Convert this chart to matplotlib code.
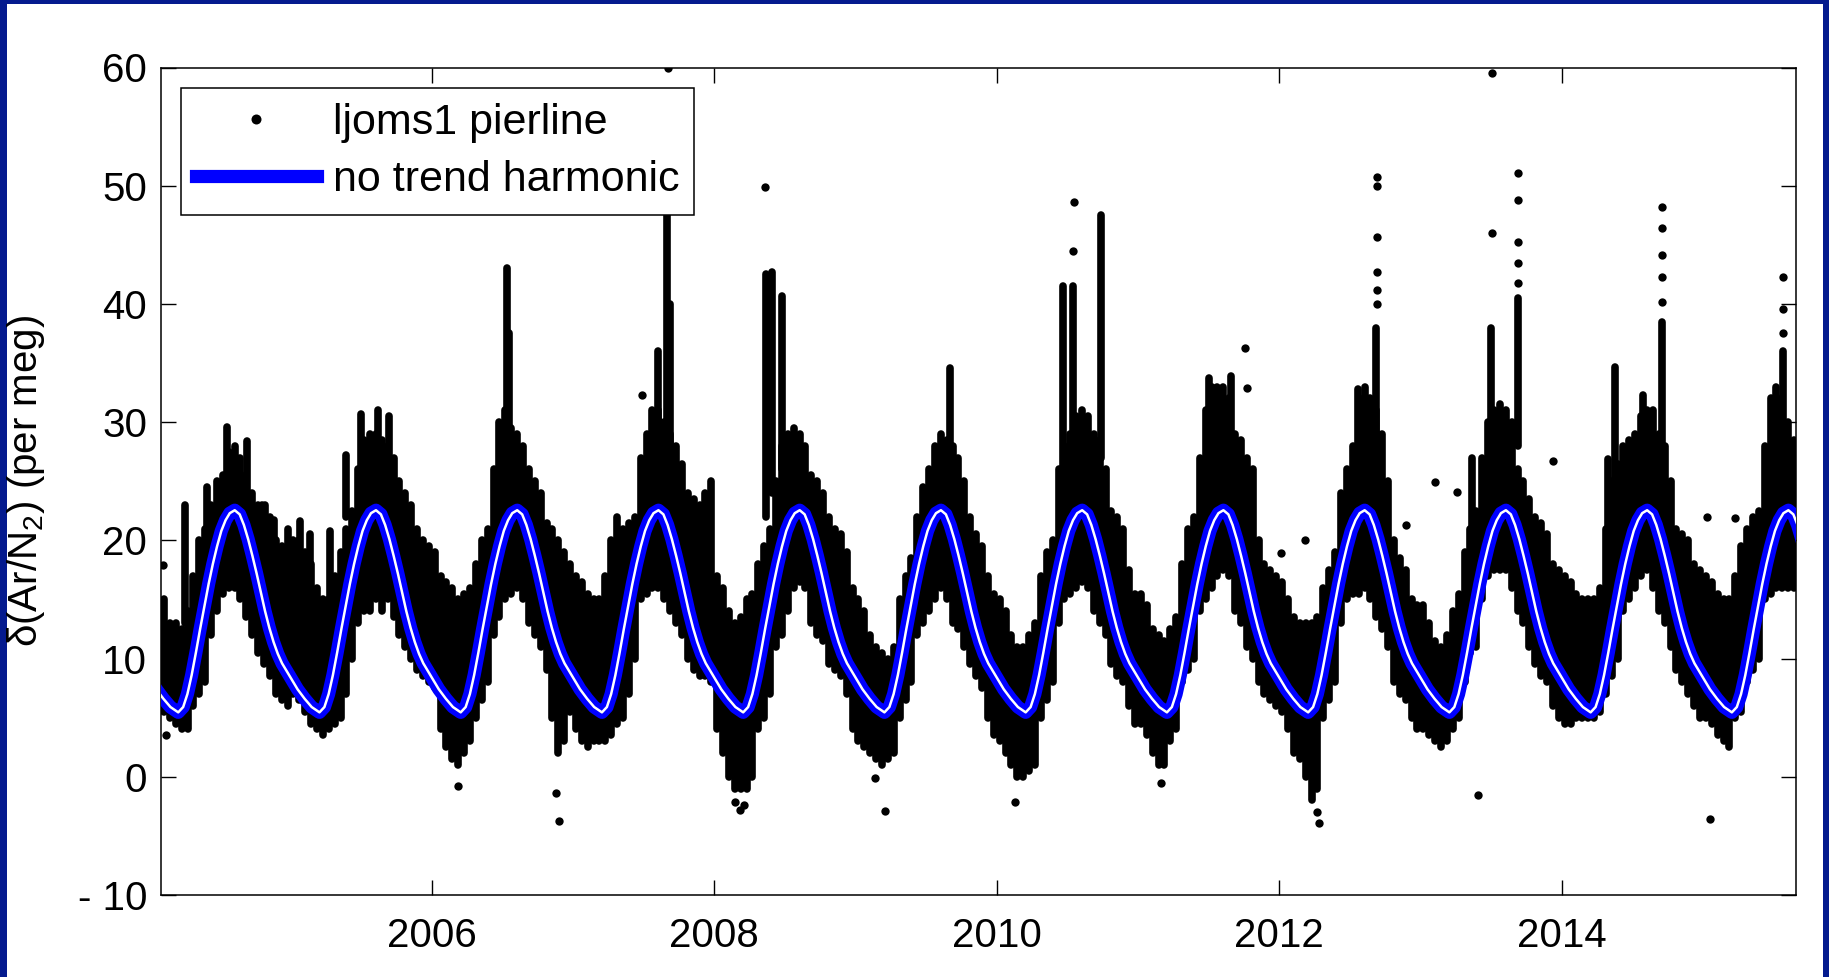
import numpy as np
import matplotlib.pyplot as plt
from matplotlib.patches import Rectangle

plt.rcParams['font.family'] = ['Liberation Sans', 'DejaVu Sans']
plt.rcParams['mathtext.fontset'] = 'custom'
plt.rcParams['mathtext.rm'] = 'Liberation Sans'

# seasonal shape of the no-trend harmonic, one year (phase in yr, value per meg)
harm_phase = [0.000, 0.050, 0.100, 0.150, 0.205, 0.240, 0.270, 0.300, 0.330, 0.360,
              0.390, 0.420, 0.450, 0.480, 0.510, 0.540, 0.570, 0.605, 0.640, 0.670,
              0.700, 0.730, 0.760, 0.790, 0.820, 0.850, 0.880, 0.910, 0.940, 0.970]
harm_value = [8.4, 7.4, 6.6, 5.9, 5.45, 5.9, 7.0, 8.6, 10.5, 12.5,
              14.4, 16.3, 18.0, 19.5, 20.8, 21.7, 22.3, 22.55, 22.2, 21.3,
              20.1, 18.7, 17.2, 15.6, 14.0, 12.6, 11.4, 10.4, 9.6, 9.0]
harm_years = list(range(2004, 2016))

# dense part of the record: low / high edge per half-month bin, starting 2004 + 2/24
core_start = 2004 + 2 / 24
core_lo = [
    5.5, 5, 4.5, 4, 4, 6, 7, 8, 12, 14, 15.5, 16, 16, 15, 13.5, 12, 10.5, 9.5, 8.5, 7, 6.5, 6,
    7, 6.5, 5.5, 4.5, 4, 3.5, 4, 4.5, 5, 7, 10, 13, 14, 14, 15, 14, 15, 13.5, 12, 11, 10, 9, 8.5, 8,
    7.5, 4, 2.5, 1.5, 1, 2, 3, 5, 6.5, 8, 12, 13.5, 15, 15.5, 16, 15, 13, 12, 11, 9, 5, 2, 3, 5.5,
    4, 3, 2.5, 3, 3, 3, 3.5, 4.5, 5, 7, 10, 15, 15.5, 16, 16, 15, 14, 13, 12, 10, 9, 8.5, 8.5, 8,
    4, 2, 0, -1, -1, -1, 0, 4, 5, 7, 11, 12, 14, 16, 16.5, 16, 13, 12, 11.5, 9.5, 9, 8.5, 7, 4,
    3, 2.5, 2, 1.5, 1, 1.5, 2, 5, 6.5, 8, 12, 13, 14, 15, 16, 15, 13, 12.5, 11, 9.5, 8.5, 7.5, 5, 3.5,
    3, 2, 1, 0, 0, 0.5, 1, 5, 6.5, 8, 13, 15, 15.5, 16, 16.5, 16, 14, 13, 12, 9.5, 8.5, 8, 6, 4.5,
    4.5, 3.5, 2, 1, 1, 3, 4, 8, 9, 10, 14, 15, 16, 17, 17.5, 17, 14, 13, 11, 10, 8, 7, 6.5, 6,
    5.5, 4, 2, 1.5, 0, -2, -1, 5, 6.5, 8, 13, 15, 15.5, 15.5, 16, 15, 13.5, 12.5, 11, 8, 7, 6.5, 5, 4,
    4, 3.5, 3, 2.5, 3, 4, 5, 8, 10.5, 11, 15, 17, 17.5, 17.5, 17.5, 16, 14, 13, 11, 9.5, 8.5, 8, 6, 5,
    4.5, 4.5, 5, 5, 5, 5, 5.5, 7, 8.5, 10, 14, 15, 16, 17, 17.5, 16, 14, 13, 11, 9, 8, 7, 6, 5,
    5, 4.5, 3.5, 3, 2.5, 5, 5.5, 8, 9, 10, 15, 15.5, 16, 16, 16, 16]
core_hi = [
    15, 13, 13, 12.5, 14, 17, 20, 21, 23, 25, 25.5, 27.5, 28, 27, 25.5, 24, 23, 22.5, 22, 20, 19.5, 21,
    20, 20, 19, 18, 16, 15, 15, 17, 19, 21, 22.5, 26, 28.5, 29, 29, 28.5, 28, 27, 25, 24, 23, 21, 20, 19.5,
    19, 17, 16.5, 16, 15, 15.5, 16, 18, 20, 21, 26, 30, 31, 29.5, 29, 28, 26, 25, 24, 21.5, 21, 20, 19, 18,
    17, 16.5, 15.5, 15, 15, 17, 20, 22, 21, 21.5, 22, 27, 29, 31, 31, 30, 29, 28, 26.5, 24, 23.5, 23, 24, 25,
    17, 16, 14, 13, 13.5, 15, 15.5, 18, 19.5, 21, 25, 28, 29, 29.5, 29, 28, 25.5, 25, 24, 22, 21, 20.5, 19, 16,
    15, 14, 12, 11, 10.5, 10, 11, 15, 17, 18.5, 22, 24.5, 26, 28, 29, 28.5, 28, 27, 25, 22, 20.5, 19.5, 17, 15.5,
    15, 14, 12, 11, 11, 12, 13, 17, 19, 20, 26, 28, 29, 30.5, 31, 30.5, 29, 28.5, 26, 22.5, 22, 21, 17.5, 15.5,
    15.5, 14.5, 12.5, 12, 11.5, 12.5, 13.5, 18, 21, 22, 27, 31, 33, 33, 33, 32, 29, 28.5, 27, 26, 20, 18, 17.5, 17,
    16.5, 15, 13.5, 13, 13, 13, 13.5, 16, 17.5, 19, 24, 26, 28, 32, 33, 32, 31, 29, 25, 20, 18.5, 17.5, 15, 14.5,
    14.5, 13, 11.5, 11, 12, 14, 15.5, 19, 21, 22.5, 27, 30, 31, 31.5, 31, 30, 26, 25, 23.5, 22, 21.5, 20.5, 18, 17.5,
    17, 16.5, 15.5, 15, 15, 15, 16, 21, 25, 26.5, 28, 28.5, 29, 30.5, 31, 31, 29, 28, 25, 21, 20.5, 20, 18, 17.5,
    17, 16.5, 15.5, 15, 15, 17, 19.5, 21, 22, 22.5, 28, 32, 33, 32, 30, 28.5]

# vertical runs of points (events) above or below the dense part
spike_year = [2004.25, 2004.41, 2004.55, 2004.69, 2004.80, 2004.82, 2004.88, 2005.07, 2005.14,
              2005.28, 2005.39, 2005.50, 2005.62, 2005.70, 2006.53, 2006.55, 2007.60, 2007.665,
              2007.69, 2008.37, 2008.41, 2008.48, 2009.667, 2010.47, 2010.54, 2010.74, 2011.50,
              2011.66, 2012.56, 2012.685, 2013.362, 2013.50, 2013.69, 2014.33, 2014.38, 2014.577,
              2014.71, 2015.565]
spike_lo = [13, 20, 25, 24, 18, 18, 17, 16, 15,
            14, 22, 26, 27, 26, 26, 26, 28, 28,
            27, 22, 24, 26, 26, 25, 27, 27, 29,
            29, 24, 28, 20, 28, 28, 14, 24, 26,
            28, 25]
spike_hi = [23, 24.5, 29.6, 28.4, 23, 23, 21.7, 21.6, 20.5,
            20.8, 27.2, 30.7, 31, 30.5, 43, 37.5, 36, 47.5,
            40, 42.5, 42.7, 40.7, 34.6, 41.5, 41.5, 47.5, 33.7,
            33.9, 32.8, 38, 27, 38, 40.5, 26.9, 34.7, 32.3,
            38.5, 36]

# isolated points
dot_year = [2004.10, 2004.12, 2006.187, 2006.88, 2006.90, 2007.49, 2007.676, 2008.15, 2008.18,
            2008.21, 2008.36, 2009.14, 2009.21, 2010.13, 2010.54, 2010.545, 2011.164, 2011.76,
            2011.77, 2012.01, 2012.18, 2012.27, 2012.28, 2012.69, 2012.69, 2012.69, 2012.69,
            2012.69, 2012.69, 2012.90, 2013.10, 2013.26, 2013.404, 2013.505, 2013.505, 2013.69,
            2013.69, 2013.69, 2013.69, 2013.69, 2013.94, 2014.71, 2014.71, 2014.71, 2014.71,
            2014.71, 2015.03, 2015.053, 2015.23, 2015.567, 2015.567, 2015.567]
dot_value = [17.9, 3.5, -0.8, -1.4, -3.7, 32.3, 60.0, -2.1, -2.8,
             -2.4, 49.9, -0.1, -2.9, -2.1, 44.5, 48.6, -0.5, 36.3,
             32.9, 18.9, 20.0, -3.0, -3.9, 40.0, 41.2, 42.7, 45.7,
             50.0, 50.7, 21.3, 24.9, 24.1, -1.5, 46.0, 59.5, 41.8,
             43.5, 45.2, 48.8, 51.1, 26.7, 40.2, 42.3, 44.1, 46.4,
             48.2, 22.0, -3.6, 21.9, 37.5, 39.6, 42.3]

y_ticks = [-10, 0, 10, 20, 30, 40, 50, 60]
y_ticklabels = ['- 10', '0', '10', '20', '30', '40', '50', '60']
x_ticks = [2006, 2008, 2010, 2012, 2014]

fig = plt.figure(figsize=(18.29, 9.77), dpi=100)
fig.patch.set_facecolor('#041A8E')
fig.patches.append(Rectangle((7 / 1829, 0), 1816 / 1829, 973.5 / 977, transform=fig.transFigure,
                             facecolor='white', edgecolor='none', zorder=-5))
ax = fig.add_axes([161 / 1829, 82 / 977, 1635 / 1829, 827.5 / 977])

core_x = core_start + (np.arange(len(core_lo)) + 0.5) / 24
lc = ax.vlines(core_x, core_lo, core_hi, colors='k', linewidth=5.5, zorder=2)
lc.set_capstyle('round')
lc2 = ax.vlines(spike_year, spike_lo, spike_hi, colors='k', linewidth=5.5, zorder=2)
lc2.set_capstyle('round')
ax.plot(dot_year, dot_value, 'o', color='k', ms=6, mew=0, zorder=2,
        label='ljoms1 pierline')

hx = np.concatenate([y + np.array(harm_phase) for y in harm_years])
hy = np.tile(harm_value, len(harm_years))
ax.plot(hx, hy, color='#0000FF', lw=9.5, zorder=3, label='no trend harmonic',
        solid_joinstyle='round')
ax.plot(hx, hy, color='white', lw=1.8, zorder=4)

ax.set_xlim(2004.083, 2015.659)
ax.set_ylim(-10, 60)
ax.set_xticks(x_ticks)
ax.set_yticks(y_ticks)
ax.set_yticklabels(y_ticklabels)
ax.tick_params(direction='in', top=True, right=True, length=10.5, width=1,
               labelsize=29, colors='k')
ax.tick_params(axis='x', pad=16)
ax.tick_params(axis='y', pad=10)
for s in ax.spines.values():
    s.set_linewidth(1.1)

ax.set_ylabel(r'δ(Ar/N$_2$) (per meg)', fontsize=29)
ax.yaxis.set_label_coords(-0.070, 0.5)

leg = ax.legend(loc='upper left', bbox_to_anchor=(20 / 1635, 1 - 20 / 827.5),
                borderaxespad=0, fontsize=31, numpoints=1, markerscale=1.2,
                handlelength=2.8, handletextpad=0.37, labelspacing=0.4,
                borderpad=0.35, fancybox=False, framealpha=1, edgecolor='k')
leg.get_frame().set_linewidth(1.1)
leg.get_lines()[1].set_linewidth(9.5)

fig.savefig('out.png', dpi=100, facecolor=fig.get_facecolor())
